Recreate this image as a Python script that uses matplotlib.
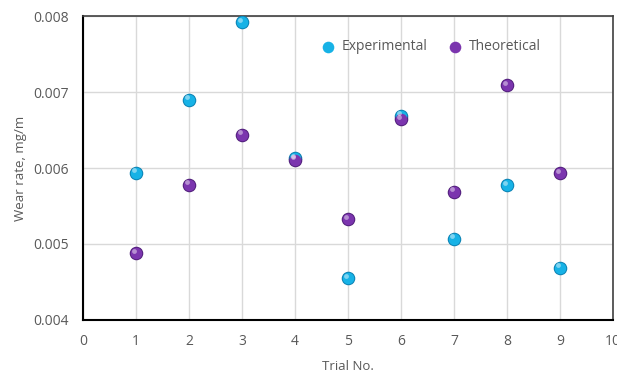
import matplotlib
matplotlib.use("Agg")
from matplotlib import pyplot as plt
import numpy as np

trials = [1, 2, 3, 4, 5, 6, 7, 8, 9]
experimental = [0.00594, 0.00690, 0.00792, 0.00613, 0.00455, 0.00669, 0.00507, 0.00577, 0.00469]
theoretical = [0.00488, 0.00578, 0.00644, 0.00611, 0.00533, 0.00664, 0.00569, 0.00709, 0.00593]
x_ticks = [0, 1, 2, 3, 4, 5, 6, 7, 8, 9, 10]
y_ticks = [0.004, 0.005, 0.006, 0.007, 0.008]

plt.rcParams['font.family'] = ['Open Sans', 'DejaVu Sans']
grey = '#595959'

fig = plt.figure(figsize=(6.17, 3.75), dpi=100)
ax = fig.add_axes([0.1345, 0.1467, 0.859, 0.8106])


def spheres(x, y, face, dark, label):
    # a ball: dark rim, body, small light spot up-left
    ax.scatter(x, y, s=95, color=dark, zorder=3, linewidths=0)
    ax.scatter(x, y, s=70, color=face, zorder=4, linewidths=0, label=label)
    ax.scatter(np.array(x) - 0.04, np.array(y) + 0.00003, s=12, color='white',
               alpha=0.45, zorder=5, linewidths=0)


spheres(trials, experimental, '#17B2E6', '#0A7FB0', 'Experimental')
spheres(trials, theoretical, '#7B35AE', '#4E1D78', 'Theoretical')

ax.set_xlim(0, 10)
ax.set_ylim(0.004, 0.008)
ax.set_xticks(x_ticks)
ax.set_yticks(y_ticks)
ax.set_xticklabels([str(v) for v in x_ticks])
ax.set_yticklabels(['%.3f' % v for v in y_ticks])
ax.grid(True, color='#D9D9D9', linewidth=1)
ax.set_axisbelow(True)
ax.tick_params(length=0, pad=10, labelsize=10, labelcolor=grey)
for side in ['top', 'right']:
    ax.spines[side].set_color('#404040')
    ax.spines[side].set_linewidth(1.2)
for side in ['left', 'bottom']:
    ax.spines[side].set_color('black')
    ax.spines[side].set_linewidth(1.5)

ax.set_xlabel('Trial No.', fontsize=9.5, color=grey, labelpad=8)
ax.set_ylabel('Wear rate, mg/m', fontsize=9.5, color=grey, labelpad=5)

ax.legend(loc='upper center', bbox_to_anchor=(0.65, 0.965), ncol=2, frameon=False,
          fontsize=10, labelcolor=grey, handletextpad=0.0, columnspacing=1.0,
          markerscale=1.0)

fig.savefig('out.png', dpi=100)
